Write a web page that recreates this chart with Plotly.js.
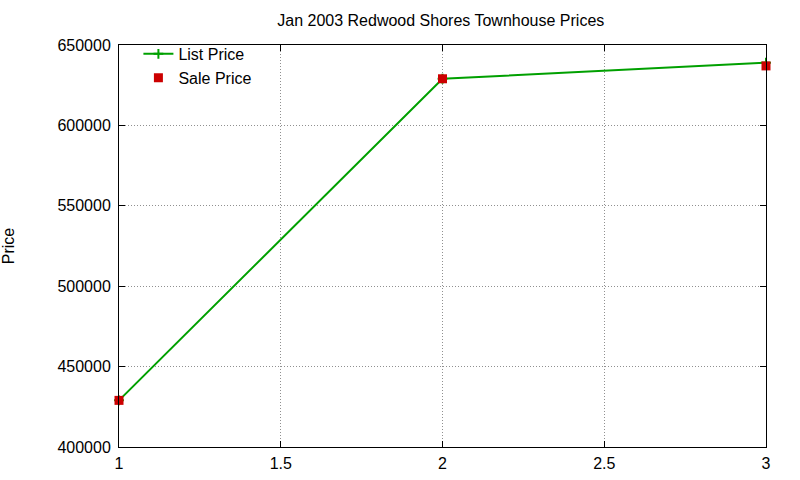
<!DOCTYPE html>
<html>
<head>
<meta charset="utf-8">
<script src="https://cdn.plot.ly/plotly-3.0.1.min.js"></script>
<style>
  html, body { margin: 0; padding: 0; background: #fff; }
  #chart { width: 800px; height: 480px; }
</style>
</head>
<body>
<div id="chart"></div>
<script>
// values
const months = [1, 2, 3];
const listPrice = [429000, 629000, 639000];
const salePrice = [429000, 629000, 637000];
const xTicks = [1, 1.5, 2, 2.5, 3];
const yTicks = [400000, 450000, 500000, 550000, 600000, 650000];

const font = 'Liberation Sans, Arial, sans-serif';

const traces = [
    {
        type: 'scatter',
        mode: 'lines+markers',
        name: 'List Price',
        x: months,
        y: listPrice,
        line: { color: '#00a000', width: 2 },
        marker: { symbol: 'cross-thin', size: 7, line: { color: '#00a000', width: 2 } },
        cliponaxis: false
    },
    {
        type: 'scatter',
        mode: 'markers',
        name: 'Sale Price',
        x: months,
        y: salePrice,
        marker: { symbol: 'square', size: 9, color: '#cc0000' },
        cliponaxis: false
    }
];

const axisCommon = {
    showline: true,
    linecolor: '#000',
    linewidth: 1,
    mirror: 'ticks',
    ticks: 'inside',
    ticklen: 6,
    tickcolor: '#000',
    showgrid: true,
    gridcolor: '#909090',
    griddash: '1px,2px',
    gridwidth: 1,
    zeroline: false,
    tickfont: { family: font, size: 16, color: '#000' }
};

const layout = {
    width: 800,
    height: 480,
    paper_bgcolor: '#fff',
    plot_bgcolor: '#fff',
    margin: { l: 119, r: 34, t: 45, b: 33 },
    title: {
        text: 'Jan 2003 Redwood Shores Townhouse Prices',
        font: { family: font, size: 16, color: '#000' },
        x: 0.551, xanchor: 'center',
        y: 0.958, yanchor: 'middle'
    },
    xaxis: Object.assign({}, axisCommon, {
        range: [1, 3],
        tickvals: xTicks,
        ticktext: xTicks.map(String),
        ticklabelstandoff: 2
    }),
    yaxis: Object.assign({}, axisCommon, {
        range: [400000, 650000],
        tickvals: yTicks,
        ticktext: yTicks.map(String),
        ticklabelstandoff: 4,
        title: { text: 'Price', font: { family: font, size: 16, color: '#000' }, standoff: 38 }
    }),
    showlegend: true,
    legend: {
        x: 0.03, y: 1.02,
        xanchor: 'left', yanchor: 'top',
        bgcolor: 'rgba(0,0,0,0)',
        font: { family: font, size: 16, color: '#000' },
        tracegroupgap: 0
    }
};

Plotly.newPlot('chart', traces, layout, { displayModeBar: false, staticPlot: true });
</script>
</body>
</html>
